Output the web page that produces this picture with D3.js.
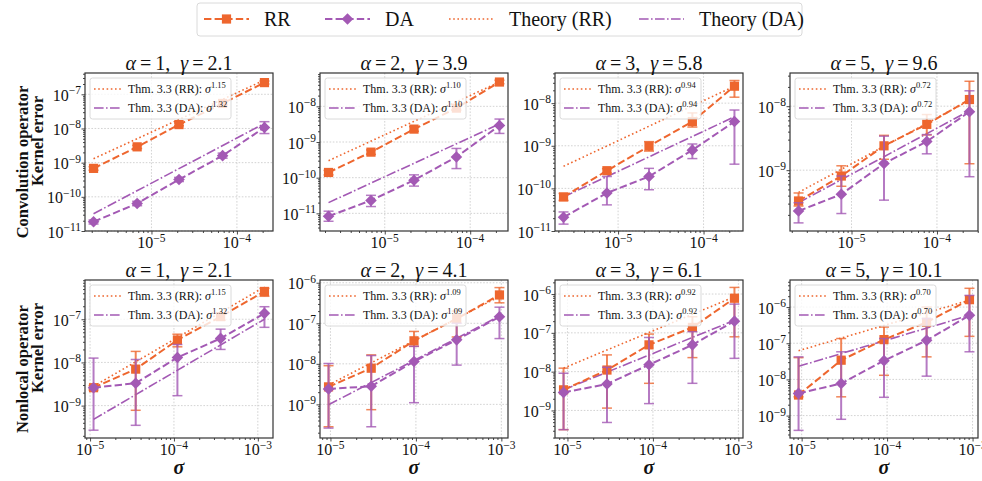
<!DOCTYPE html>
<html>
<head>
<meta charset="utf-8">
<script src="https://cdn.jsdelivr.net/npm/d3@7"></script>
<style>
body { margin: 0; background: #fff; }
svg { display: block; }
text { font-family: "Liberation Serif", "Times New Roman", serif; fill: #111; }
</style>
</head>
<body>
<svg id="chart" width="982" height="481"></svg>
<script>
// kernel error vs noise level sigma, 2 operators x 4 smoothness settings

var alphaValues = [1, 2, 3, 5, 1, 2, 3, 5];
var gammaValues = ["2.1", "3.9", "5.8", "9.6", "2.1", "4.1", "6.1", "10.1"];
var rowLabels = [["Convolution operator", "Kernel error"], ["Nonlocal operator", "Kernel error"]];
var seriesNames = ["RR", "DA", "Theory (RR)", "Theory (DA)"];

// theory exponents shown in the inner legends
var expRR = ["1.15", "1.10", "0.94", "0.72", "1.15", "1.09", "0.92", "0.70"];
var expDA = ["1.32", "1.10", "0.94", "0.72", "1.32", "1.09", "0.92", "0.70"];

// noise levels (x values) per panel
var sigmaValues = [
  [2.1e-6, 6.8e-6, 2.1e-5, 6.8e-5, 2.1e-4],
  [2.2e-6, 6.9e-6, 2.2e-5, 6.9e-5, 2.2e-4],
  [2.3e-6, 7.4e-6, 2.3e-5, 7.4e-5, 2.3e-4],
  [2.4e-6, 7.6e-6, 2.4e-5, 7.6e-5, 2.4e-4],
  [1.1e-5, 3.5e-5, 1.1e-4, 3.6e-4, 1.2e-3],
  [9.5e-6, 3.0e-5, 9.5e-5, 3.0e-4, 9.5e-4],
  [9.0e-6, 2.9e-5, 9.0e-5, 2.9e-4, 9.0e-4],
  [9.2e-6, 2.9e-5, 9.2e-5, 2.9e-4, 9.2e-4]
];

// RR estimator: mean error and error bar ends
var rrMean = [
  [6.8e-10, 2.9e-9, 1.3e-8, 5.4e-8, 2.2e-7],
  [1.4e-10, 5.2e-10, 2.3e-9, 8.9e-9, 4.8e-8],
  [6.3e-11, 2.6e-10, 9.8e-10, 3.7e-9, 2.5e-8],
  [3.3e-10, 8.1e-10, 2.4e-9, 5.2e-9, 1.27e-8],
  [2.6e-9, 7.0e-9, 3.3e-8, 1.15e-7, 4.4e-7],
  [2.7e-9, 7.8e-9, 3.7e-8, 1.3e-7, 5.0e-7],
  [3.4e-9, 1.1e-8, 4.9e-8, 1.38e-7, 7.8e-7],
  [3.7e-9, 3.4e-8, 1.26e-7, 3.8e-7, 1.6e-6]
];
var rrLow = [
  [6.0e-10, 2.6e-9, 1.2e-8, 4.9e-8, 2.0e-7],
  [1.2e-10, 4.5e-10, 2.0e-9, 7.8e-9, 4.3e-8],
  [5.2e-11, 2.3e-10, 7.5e-10, 2.75e-9, 1.38e-8],
  [2.75e-10, 5.6e-10, 1.48e-9, 3.55e-9, 1.26e-9],
  [2.3e-9, 7.8e-10, 2.3e-8, 9.5e-8, 3.4e-7],
  [2.8e-10, 7.4e-10, 2.7e-8, 4.6e-8, 3.2e-7],
  [3.2e-10, 1.15e-9, 5.0e-9, 2.3e-8, 7.9e-8],
  [3.3e-9, 3.3e-9, 1.3e-8, 4.2e-8, 1.55e-7]
];
var rrHigh = [
  [7.6e-10, 3.2e-9, 1.45e-8, 6.0e-8, 2.45e-7],
  [1.6e-10, 6.0e-10, 2.7e-9, 1.0e-8, 5.4e-8],
  [7.6e-11, 2.9e-10, 1.25e-9, 5.9e-9, 3.4e-8],
  [4.4e-10, 1.17e-9, 3.5e-9, 7.4e-9, 2.45e-8],
  [2.9e-9, 1.8e-8, 4.5e-8, 1.4e-7, 5.2e-7],
  [9.0e-9, 1.66e-8, 6.3e-8, 2.0e-7, 7.6e-7],
  [1.23e-8, 2.7e-8, 9.3e-8, 2.6e-7, 1.48e-6],
  [4.0e-8, 1.35e-7, 2.8e-7, 1.0e-6, 3.3e-6]
];

// DA estimator: mean error and error bar ends
var daMean = [
  [1.86e-11, 6.4e-11, 3.2e-10, 1.6e-9, 1.07e-8],
  [8.3e-12, 2.3e-11, 8.5e-11, 3.8e-10, 2.9e-9],
  [2.1e-11, 7.8e-11, 1.9e-10, 7.9e-10, 3.7e-9],
  [2.3e-10, 4.2e-10, 1.27e-9, 2.8e-9, 8.2e-9],
  [2.6e-9, 3.3e-9, 1.3e-8, 3.6e-8, 1.37e-7],
  [2.4e-9, 2.8e-9, 1.14e-8, 3.9e-8, 1.45e-7],
  [2.9e-9, 4.8e-9, 1.5e-8, 4.9e-8, 2.0e-7],
  [4.1e-9, 7.7e-9, 3.3e-8, 1.2e-7, 5.9e-7]
];
var daLow = [
  [1.6e-11, 5.5e-11, 2.8e-10, 1.35e-9, 7.1e-9],
  [6.0e-12, 1.55e-11, 5.8e-11, 1.8e-10, 1.74e-9],
  [1.45e-11, 4.1e-11, 9.3e-11, 5.0e-10, 3.7e-10],
  [1.5e-10, 2.1e-10, 3.4e-10, 1.8e-9, 7.9e-10],
  [2.7e-10, 3.5e-10, 1.7e-9, 2.0e-8, 6.5e-8],
  [2.6e-10, 2.8e-10, 1.1e-9, 9.3e-9, 4.2e-8],
  [3.2e-10, 4.9e-10, 1.5e-9, 5.0e-9, 2.2e-8],
  [3.9e-10, 7.9e-10, 3.2e-9, 1.23e-8, 5.8e-8]
];
var daHigh = [
  [2.1e-11, 7.4e-11, 3.7e-10, 1.9e-9, 1.58e-8],
  [1.15e-11, 3.2e-11, 1.2e-10, 6.6e-10, 4.4e-9],
  [2.8e-11, 1.9e-10, 2.95e-10, 1.1e-9, 6.9e-9],
  [3.1e-10, 8.1e-10, 3.4e-9, 3.6e-9, 1.74e-8],
  [1.26e-8, 1.17e-8, 2.6e-8, 5.9e-8, 1.95e-7],
  [1.02e-8, 1.6e-8, 2.7e-8, 1.0e-7, 2.5e-7],
  [9.1e-9, 1.3e-8, 7.6e-8, 1.07e-7, 5.5e-7],
  [4.2e-8, 5.8e-8, 1.35e-7, 4.8e-7, 2.1e-6]
];

// theory lines: value at first and last sigma
var theoryRR = [
  [1.3e-9, 2.6e-7], [3.0e-10, 4.8e-8], [3.3e-10, 2.5e-8], [4.5e-10, 1.23e-8],
  [2.8e-9, 5.6e-7], [3.0e-9, 4.6e-7], [1.23e-8, 8.5e-7], [6.2e-8, 1.55e-6]
];
var theoryDA = [
  [3.2e-11, 1.4e-8], [2.0e-11, 3.2e-9], [6.3e-11, 4.8e-9], [3.1e-10, 8.5e-9],
  [4.8e-10, 1.0e-7], [9.8e-10, 1.5e-7], [3.4e-9, 2.1e-7], [2.3e-8, 5.9e-7]
];

// y axis limits per panel
var yLimits = [
  [1.0e-11, 4.2e-7], [3.2e-12, 8.6e-8], [1.0e-11, 5.1e-8], [1.12e-10, 3.3e-8],
  [1.78e-10, 8.1e-7], [1.48e-10, 1.17e-6], [1.95e-10, 2.3e-6], [2.4e-10, 5.6e-6]
];

// colours and layout
var colorRR = "#ee662e";
var colorDA = "#a359b4";
var colorAxis = "#333";
var panelLeft0 = 85, panelStep = 235, panelW = 188, panelH = 158;
var rowTop = [73, 280];

var svg = d3.select("#chart");

function decadesIn(domain) {
  var a = Math.ceil(Math.log10(domain[0]) - 1e-9), b = Math.floor(Math.log10(domain[1]) + 1e-9);
  return d3.range(a, b + 1);
}

function minorsIn(domain) {
  var out = [];
  var a = Math.floor(Math.log10(domain[0])), b = Math.ceil(Math.log10(domain[1]));
  for (var k = a; k <= b; k++) {
    for (var m = 2; m <= 9; m++) {
      var v = m * Math.pow(10, k);
      if (v >= domain[0] && v <= domain[1]) out.push(v);
    }
  }
  return out;
}

function powText(sel, k, big, small) {
  sel.append("tspan").attr("font-size", big).text("10");
  sel.append("tspan").attr("font-size", small).attr("dy", -6.5).text("\u2212" + Math.abs(k));
}

function diamond(r) {
  return "M0," + (-r) + "L" + r + ",0L0," + r + "L" + (-r) + ",0Z";
}

function drawSeries(g, x, y, sig, mean, lo, hi, color, isDA) {
  var pts = sig.map(function(s, i) { return [s, mean[i], lo[i], hi[i]]; });
  g.append("path")
    .attr("d", d3.line().x(function(d) { return x(d[0]); }).y(function(d) { return y(d[1]); })(pts))
    .attr("fill", "none").attr("stroke", color).attr("stroke-width", 2)
    .attr("stroke-dasharray", "7.4,3.2");
  var eb = g.append("g").attr("stroke", color).attr("stroke-opacity", 0.8);
  pts.forEach(function(d) {
    var px = x(d[0]);
    eb.append("line").attr("x1", px).attr("x2", px).attr("y1", y(d[2])).attr("y2", y(d[3])).attr("stroke-width", 2);
    [d[2], d[3]].forEach(function(v) {
      eb.append("line").attr("x1", px - 5).attr("x2", px + 5).attr("y1", y(v)).attr("y2", y(v)).attr("stroke-width", 1.5);
    });
  });
  pts.forEach(function(d) {
    if (isDA) {
      g.append("path").attr("d", diamond(5.8))
        .attr("transform", "translate(" + x(d[0]) + "," + y(d[1]) + ")").attr("fill", color);
    } else {
      g.append("rect").attr("x", x(d[0]) - 4.6).attr("y", y(d[1]) - 4.6)
        .attr("width", 9.2).attr("height", 9.2).attr("fill", color);
    }
  });
}

function drawPanel(p) {
  var row = Math.floor(p / 4), col = p % 4;
  var x0 = panelLeft0 + col * panelStep, y0 = rowTop[row];
  var sig = sigmaValues[p];
  var pad = Math.pow(10, 0.05 * Math.log10(sig[4] / sig[0]));
  var x = d3.scaleLog().domain([sig[0] / pad, sig[4] * pad]).range([0, panelW]);
  var y = d3.scaleLog().domain(yLimits[p]).range([panelH, 0]);

  var g = svg.append("g").attr("transform", "translate(" + x0 + "," + y0 + ")");
  g.append("defs").append("clipPath").attr("id", "clip" + p)
    .append("rect").attr("width", panelW).attr("height", panelH);

  var xMaj = decadesIn(x.domain()), yMaj = decadesIn(y.domain());

  // grid
  var grid = g.append("g").attr("stroke", "#c8c8c8").attr("stroke-width", 0.8).attr("stroke-dasharray", "1.6,1.6");
  xMaj.forEach(function(k) {
    var px = x(Math.pow(10, k));
    grid.append("line").attr("x1", px).attr("x2", px).attr("y1", 0).attr("y2", panelH);
  });
  yMaj.forEach(function(k) {
    var py = y(Math.pow(10, k));
    grid.append("line").attr("x1", 0).attr("x2", panelW).attr("y1", py).attr("y2", py);
  });

  var plot = g.append("g").attr("clip-path", "url(#clip" + p + ")");

  // theory lines
  var ends = [sig[0], sig[4]];
  plot.append("path")
    .attr("d", d3.line().x(function(d, i) { return x(ends[i]); }).y(function(d) { return y(d); })(theoryRR[p]))
    .attr("stroke", colorRR).attr("stroke-width", 1.6).attr("fill", "none").attr("stroke-dasharray", "1.6,2.6");
  plot.append("path")
    .attr("d", d3.line().x(function(d, i) { return x(ends[i]); }).y(function(d) { return y(d); })(theoryDA[p]))
    .attr("stroke", colorDA).attr("stroke-width", 1.6).attr("fill", "none").attr("stroke-dasharray", "9.6,2.4,1.6,2.4");

  drawSeries(plot, x, y, sig, rrMean[p], rrLow[p], rrHigh[p], colorRR, false);
  drawSeries(plot, x, y, sig, daMean[p], daLow[p], daHigh[p], colorDA, true);

  // ticks
  var xMajVals = xMaj.map(function(k) { return Math.pow(10, k); });
  var yMajVals = yMaj.map(function(k) { return Math.pow(10, k); });
  var ax = [
    g.append("g").attr("transform", "translate(0," + panelH + ")").call(d3.axisBottom(x).tickValues(xMajVals).tickSize(3.5).tickFormat("")),
    g.append("g").attr("transform", "translate(0," + panelH + ")").call(d3.axisBottom(x).tickValues(minorsIn(x.domain())).tickSize(2).tickFormat("")),
    g.append("g").call(d3.axisLeft(y).tickValues(yMajVals).tickSize(3.5).tickFormat("")),
    g.append("g").call(d3.axisLeft(y).tickValues(minorsIn(y.domain())).tickSize(2).tickFormat(""))
  ];
  ax.forEach(function(a) {
    a.select(".domain").remove();
    a.selectAll("line").attr("stroke", colorAxis).attr("stroke-width", 0.9);
  });

  xMaj.forEach(function(k) {
    var t = g.append("text").attr("x", x(Math.pow(10, k))).attr("y", panelH + 17).attr("text-anchor", "middle");
    powText(t, k, "16px", "11.5px");
  });
  yMaj.forEach(function(k) {
    var t = g.append("text").attr("x", -4).attr("y", y(Math.pow(10, k)) + 6.5).attr("text-anchor", "end");
    powText(t, k, "16px", "11.5px");
  });

  // frame
  g.append("rect").attr("width", panelW).attr("height", panelH)
    .attr("fill", "none").attr("stroke", colorAxis).attr("stroke-width", 1.2);

  // title
  var tt = g.append("text").attr("x", panelW / 2).attr("y", -3.5).attr("text-anchor", "middle").attr("font-size", "20px");
  tt.append("tspan").attr("font-style", "italic").text("\u03b1");
  tt.append("tspan").text("\u2009=\u2009" + alphaValues[p] + ",\u00a0\u00a0");
  tt.append("tspan").attr("font-style", "italic").text("\u03b3");
  tt.append("tspan").text("\u2009=\u2009" + gammaValues[p]);

  // inner legend
  var lg = g.append("g").attr("transform", "translate(5,5)");
  lg.append("rect").attr("width", 141).attr("height", 41).attr("rx", 2.5)
    .attr("fill", "#fff").attr("fill-opacity", 0.8).attr("stroke", "#d0d0d0").attr("stroke-width", 0.8);
  [["RR", expRR[p], colorRR, "1.6,2.6", 11], ["DA", expDA[p], colorDA, "9.6,2.4,1.6,2.4", 30]].forEach(function(e) {
    lg.append("line").attr("x1", 4).attr("x2", 31).attr("y1", e[4]).attr("y2", e[4])
      .attr("stroke", e[2]).attr("stroke-width", 1.6).attr("stroke-dasharray", e[3]);
    var t = lg.append("text").attr("x", 38).attr("y", e[4] + 4).attr("font-size", "12px");
    t.append("tspan").text("Thm. 3.3 (" + e[0] + "):\u00a0");
    t.append("tspan").attr("font-style", "italic").text("\u03c3");
    t.append("tspan").attr("font-size", "8.5px").attr("dy", -5).text(e[1]);
  });

  // x label on bottom row
  if (row === 1) {
    g.append("text").attr("x", panelW / 2).attr("y", panelH + 36).attr("text-anchor", "middle")
      .attr("font-size", "20px").attr("font-weight", "bold").attr("font-style", "italic").text("\u03c3");
  }
}

// row labels
rowLabels.forEach(function(lines, r) {
  var cy = rowTop[r] + panelH / 2;
  svg.append("text").attr("transform", "translate(28," + (cy + 10) + ") rotate(-90)")
    .attr("text-anchor", "middle").attr("font-size", "16.5px").attr("font-weight", "bold").text(lines[0]);
  svg.append("text").attr("transform", "translate(43," + (cy - 11) + ") rotate(-90)")
    .attr("text-anchor", "middle").attr("font-size", "16.5px").attr("font-weight", "bold").text(lines[1]);
});

for (var p = 0; p < 8; p++) drawPanel(p);

// top legend
var legend = svg.append("g");
legend.append("rect").attr("x", 197).attr("y", 3).attr("width", 605).attr("height", 33).attr("rx", 3)
  .attr("fill", "#fff").attr("stroke", "#d0d0d0").attr("stroke-width", 0.8);
var legendX = [204, 325, 449, 639];
var legendStyle = [
  [colorRR, "7.4,3.2", 2, "square"],
  [colorDA, "7.4,3.2", 2, "diamond"],
  [colorRR, "1.6,2.6", 1.6, null],
  [colorDA, "9.6,2.4,1.6,2.4", 1.6, null]
];
seriesNames.forEach(function(name, i) {
  var lx = legendX[i], st = legendStyle[i];
  legend.append("line").attr("x1", lx).attr("x2", lx + 45).attr("y1", 19).attr("y2", 19)
    .attr("stroke", st[0]).attr("stroke-width", st[2]).attr("stroke-dasharray", st[1]);
  if (st[3] === "square") {
    legend.append("rect").attr("x", lx + 22.5 - 4.6).attr("y", 19 - 4.6).attr("width", 9.2).attr("height", 9.2).attr("fill", st[0]);
  } else if (st[3] === "diamond") {
    legend.append("path").attr("d", diamond(5.8)).attr("transform", "translate(" + (lx + 22.5) + ",19)").attr("fill", st[0]);
  }
  legend.append("text").attr("x", lx + 60).attr("y", 26).attr("font-size", "20px").text(name);
});
</script>
</body>
</html>
